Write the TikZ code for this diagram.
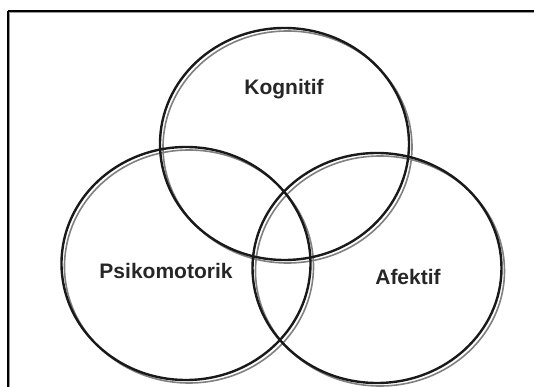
\documentclass[tikz,border=0pt]{standalone}
\usepackage{fontspec}
\setmainfont{Liberation Sans}
\begin{document}
\begin{tikzpicture}[x=1pt,y=-1pt,
  ring/.style={draw=black!90,line width=2.4pt},
  ringshadow/.style={draw=black!50,line width=1.6pt},
  lbl/.style={font=\fontsize{21}{24}\selectfont\bfseries,text=black!85,inner sep=0pt}]
\useasboundingbox (0,0) rectangle (534,387);
% frame
\draw[black!40,line width=1pt] (9.5,12.5) -- (534,12.5);
\draw[black!40,line width=1pt] (9.5,12.5) -- (9.5,387);
\draw[black,line width=1.5pt] (8,11) -- (534,11);
\draw[black,line width=1.5pt] (8,11) -- (8,387);
% shadows
\draw[ringshadow] (287.5,147) ellipse [x radius=124.5, y radius=116];
\draw[ringshadow] (189,266.5) ellipse [x radius=124.5, y radius=116.5];
\draw[ringshadow] (380,271) ellipse [x radius=124.5, y radius=115];
% rings
\draw[ring] (284.5,144) ellipse [x radius=124.5, y radius=116];
\draw[ring] (186,263.5) ellipse [x radius=124.5, y radius=116.5];
\draw[ring] (377,268) ellipse [x radius=124.5, y radius=115];
% labels
\node[lbl] (kog) at (284,89) {Kognitif};
\node[lbl] (psi) at (166,271) {Psikomotorik};
\node[lbl] (afe) at (408,277) {Afektif};
\end{tikzpicture}
\end{document}
